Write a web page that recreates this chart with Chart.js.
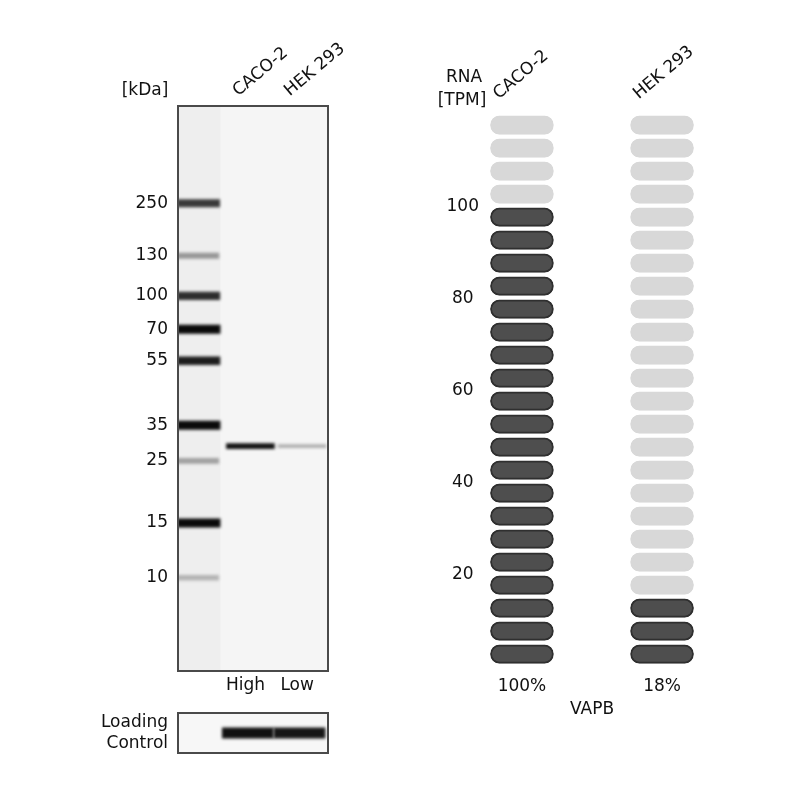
<!DOCTYPE html>
<html><head><meta charset="utf-8">
<script src="https://cdn.jsdelivr.net/npm/chart.js@4/dist/chart.umd.min.js"></script>
<style>
html,body{margin:0;padding:0;background:#fff;}
#wrap{position:relative;width:800px;height:800px;overflow:hidden;background:#fff;}
canvas{position:absolute;}
</style></head><body>
<div id="wrap">
<canvas id="blot" width="400" height="700" style="left:0;top:0;width:400px;height:700px"></canvas>
<canvas id="load" width="400" height="100" style="left:0;top:700px;width:400px;height:100px"></canvas>
<canvas id="rna" width="400" height="800" style="left:400px;top:0;width:400px;height:800px"></canvas>
</div>
<script>
// ---------- data ----------
const kdaLabels = ['250','130','100','70','55','35','25','15','10'];
const markerMigration = [17.2, 26.5, 33.6, 39.5, 45.1, 56.5, 62.8, 73.8, 83.5]; // % of gel length
const markerIntensity = [0.80, 0.40, 0.85, 1.00, 0.92, 1.00, 0.36, 1.00, 0.28];
const blotLanes = ['CACO-2', 'HEK 293'];
const blotLevels = ['High', 'Low'];
const bandMigration = [60.2, 60.2];
const bandIntensity = [0.97, 0.30];
const loadingIntensity = [0.97, 0.95];
const loadingLabel = ['Loading', 'Control'];
const rnaCells = ['CACO-2', 'HEK 293'];
const rnaTPM = [100, 18];
const rnaPct = ['100%', '18%'];
const rnaTicks = [20, 40, 60, 80, 100];
const rnaMax = 120, rnaStep = 5;
const geneName = 'VAPB';

// ---------- style ----------
const FONT = {family: "'DejaVu Sans', sans-serif", size: 17};
const TXT = '#111111';
const gray = I => { const g = Math.round(245 - 235 * I); return `rgb(${g},${g},${g})`; };
const lineBand = (x0, x1, y, I, w) => ({
  data: [{x: x0, y}, {x: x1, y}],
  borderColor: gray(I), borderWidth: w, borderCapStyle: 'butt',
  pointRadius: 0, fill: false, tension: 0
});

const gelPlugin = (shadeLadder, bg) => ({
  id: 'gel',
  beforeDatasetsDraw(chart) {
    const {ctx, chartArea: a, scales} = chart;
    ctx.save();
    ctx.fillStyle = bg;
    ctx.fillRect(a.left, a.top, a.width, a.height);
    if (shadeLadder) {
      const x0 = scales.x.getPixelForValue(-0.4), x1 = scales.x.getPixelForValue(0.42);
      ctx.fillStyle = '#eeeeee';
      ctx.fillRect(x0, a.top, x1 - x0, a.height);
    }
    ctx.restore();
    ctx.save();
    ctx.filter = 'blur(1.4px)';
  },
  afterDatasetsDraw(chart) {
    const {ctx, chartArea: a} = chart;
    ctx.restore();
    ctx.save();
    ctx.strokeStyle = '#4a4a4a';
    ctx.lineWidth = 2;
    ctx.strokeRect(a.left, a.top, a.width, a.height);
    ctx.restore();
  }
});

const textPlugin = (items) => ({
  id: 'texts',
  afterDraw(chart) {
    const ctx = chart.ctx;
    ctx.save();
    ctx.font = `${FONT.size}px ${FONT.family}`;
    ctx.fillStyle = TXT;
    ctx.textAlign = 'center';
    ctx.textBaseline = 'middle';
    items.forEach(t => ctx.fillText(t.text, t.x, t.y));
    ctx.restore();
  }
});

// ---------- western blot ----------
const blotSets = [];
markerMigration.forEach((m, i) => blotSets.push(lineBand(-0.42, 0.38 + 0.04 * markerIntensity[i], m, markerIntensity[i], 4 + 5 * markerIntensity[i])));
bandMigration.forEach((m, i) => blotSets.push(lineBand(i + 1 - 0.47, i + 1 + 0.47, m, bandIntensity[i], 3 + 3 * bandIntensity[i])));

const laneX = {type: 'linear', min: -0.4, max: 2.5, offset: false,
  grid: {display: false, drawTicks: false}, border: {display: false}};

new Chart(document.getElementById('blot'), {
  type: 'line',
  data: {datasets: blotSets},
  options: {
    responsive: false, animation: false, events: [],
    layout: {padding: {left: 0, right: 72, top: 0, bottom: 0}},
    plugins: {legend: {display: false}, tooltip: {enabled: false}},
    scales: {
      x: Object.assign({}, laneX, {position: 'bottom',
        afterBuildTicks: s => { s.ticks = blotLevels.map((_, i) => ({value: i + 1})); },
        afterFit: s => { s.height = 29; },
        ticks: {font: FONT, color: TXT, padding: 4, labelOffset: -5, maxRotation: 0, autoSkip: false,
          callback: v => blotLevels[v - 1]}}),
      xTop: Object.assign({}, laneX, {position: 'top',
        afterBuildTicks: s => { s.ticks = blotLanes.map((_, i) => ({value: i + 1})); },
        afterFit: s => { s.height = 106; },
        ticks: {font: FONT, color: TXT, padding: 5, labelOffset: -2, minRotation: 40, maxRotation: 40, autoSkip: false,
          callback: v => blotLanes[v - 1]}}),
      y: {type: 'linear', min: 0, max: 100, reverse: true,
        grid: {display: false, drawTicks: false}, border: {display: false},
        afterBuildTicks: s => { s.ticks = markerMigration.map(v => ({value: v})); },
        afterFit: s => { s.width = 178; },
        ticks: {font: FONT, color: TXT, padding: 10, autoSkip: false,
          callback: (v, i) => kdaLabels[i]}}
    }
  },
  plugins: [gelPlugin(true, '#f5f5f5'), textPlugin([{text: '[kDa]', x: 145, y: 91}])]
});

// ---------- loading control ----------
const loadSets = loadingIntensity.map((I, i) => lineBand(i + 1 - 0.55, i + 1 + 0.45, 0.5, I, 11));
new Chart(document.getElementById('load'), {
  type: 'line',
  data: {datasets: loadSets},
  options: {
    responsive: false, animation: false, events: [],
    layout: {padding: {left: 0, right: 72, top: 13, bottom: 47}},
    plugins: {legend: {display: false}, tooltip: {enabled: false}},
    scales: {
      x: Object.assign({}, laneX, {display: false}),
      y: {type: 'linear', min: 0, max: 1,
        grid: {display: false, drawTicks: false}, border: {display: false},
        afterBuildTicks: s => { s.ticks = [{value: 0.5}]; },
        afterFit: s => { s.width = 178; s.paddingTop = 0; s.paddingBottom = 0; },
        ticks: {font: Object.assign({}, FONT, {lineHeight: 1.24}), color: TXT, padding: 10,
          callback: () => loadingLabel}}
    }
  },
  plugins: [gelPlugin(false, '#f7f7f7')]
});

// ---------- RNA pills ----------
const nPills = rnaMax / rnaStep;
const rnaSets = [];
for (let i = 0; i < nPills; i++) {
  const lit = rnaTPM.map(v => (i + 1) * rnaStep <= v);
  rnaSets.push({
    data: rnaTPM.map((v, j) => ({x: j, y: [i * rnaStep + 0.8, i * rnaStep + 4.8]})),
    backgroundColor: lit.map(l => l ? '#4e4e4e' : '#d8d8d8'),
    borderColor: lit.map(l => l ? '#2f2f2f' : '#d8d8d8'),
    borderWidth: 2, borderRadius: 9, borderSkipped: false,
    grouped: false, barThickness: 63
  });
}
const cellX = {type: 'linear', min: -0.271, max: 1.271, offset: false,
  grid: {display: false, drawTicks: false, offset: false}, border: {display: false}};

new Chart(document.getElementById('rna'), {
  type: 'bar',
  data: {datasets: rnaSets},
  options: {
    responsive: false, animation: false, events: [],
    layout: {padding: {left: 0, right: 100, top: 0, bottom: 0}},
    plugins: {legend: {display: false}, tooltip: {enabled: false}},
    scales: {
      x: Object.assign({}, cellX, {position: 'bottom',
        afterBuildTicks: s => { s.ticks = rnaCells.map((_, i) => ({value: i})); },
        afterFit: s => { s.height = 133; },
        ticks: {font: FONT, color: TXT, padding: 9, maxRotation: 0, autoSkip: false,
          callback: v => rnaPct[v]},
        title: {display: true, text: geneName, font: FONT, color: TXT, padding: {top: 0, bottom: 80}}}),
      xTop: Object.assign({}, cellX, {position: 'top',
        afterBuildTicks: s => { s.ticks = rnaCells.map((_, i) => ({value: i})); },
        afterFit: s => { s.height = 115; },
        ticks: {font: FONT, color: TXT, padding: 11, labelOffset: -13, minRotation: 40, maxRotation: 40, autoSkip: false,
          callback: v => rnaCells[v]}}),
      y: {type: 'linear', min: 0, max: rnaMax,
        grid: {display: false, drawTicks: false}, border: {display: false},
        afterBuildTicks: s => { s.ticks = rnaTicks.map(v => ({value: v})); },
        afterFit: s => { s.width = 84; },
        ticks: {font: FONT, color: TXT, padding: 5, crossAlign: 'center', autoSkip: false}}
    }
  },
  plugins: [textPlugin([{text: 'RNA', x: 64, y: 78}, {text: '[TPM]', x: 62, y: 101}])]
});
</script>
</body></html>
